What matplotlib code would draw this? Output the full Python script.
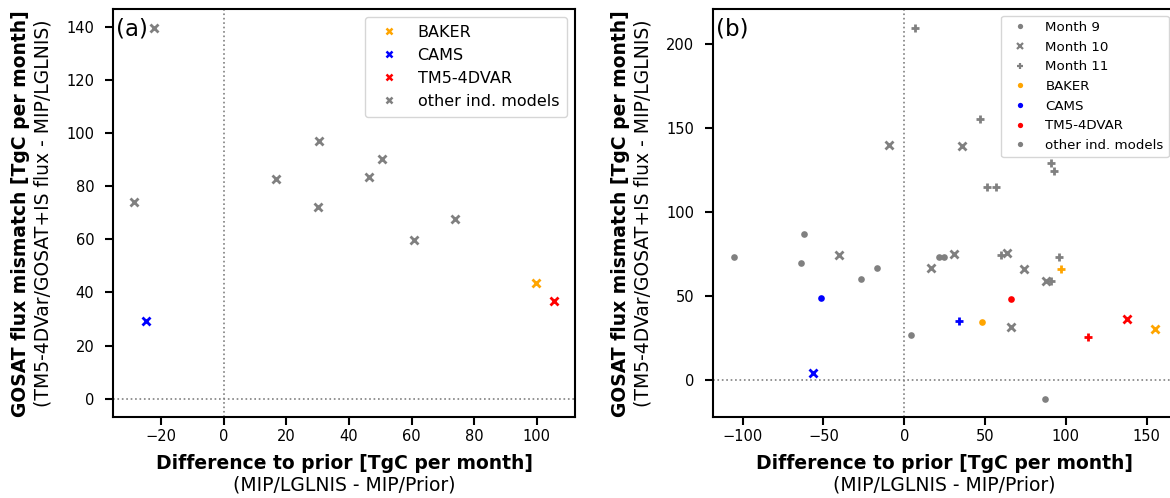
import matplotlib
matplotlib.use("Agg")
import matplotlib.pyplot as plt
from matplotlib.lines import Line2D

# ---------------- data ----------------
# panel (a)
a_other_x = [-28.6, -22.3, 16.7, 30.5, 30.2, 46.4, 50.5, 60.7, 73.9]
a_other_y = [74.0, 139.7, 82.8, 97.0, 72.1, 83.5, 90.3, 59.6, 67.5]
a_baker = (99.8, 43.6)
a_cams = (-24.9, 29.3)
a_tm5 = (105.5, 36.6)

# panel (b)
m9_other_x = [-105.1, -61.9, -63.8, -26.6, -16.6, 4.4, 21.7, 24.8, 87.4]
m9_other_y = [73.1, 87.1, 69.9, 60.4, 66.9, 26.7, 73.3, 73.1, -11.1]
m9_baker = (47.9, 34.3)
m9_cams = (-51.2, 48.9)
m9_tm5 = (66.1, 48.1)

m10_other_x = [-9.1, -40.2, 16.6, 30.6, 35.7, 63.3, 74.3, 87.6, 66.1]
m10_other_y = [139.8, 74.3, 66.7, 75.0, 139.4, 75.8, 65.9, 58.8, 31.7]
m10_baker = (154.9, 30.3)
m10_cams = (-56.3, 4.0)
m10_tm5 = (137.9, 36.2)

m11_other_x = [6.5, 47.0, 51.2, 56.8, 90.7, 92.5, 59.8, 96.0, 90.7]
m11_other_y = [209.9, 155.4, 115.0, 115.0, 129.3, 124.4, 74.5, 73.5, 58.8]
m11_baker = (97.2, 66.3)
m11_cams = (33.9, 35.0)
m11_tm5 = (113.8, 25.7)

model_names = ["BAKER", "CAMS", "TM5-4DVAR", "other ind. models"]
model_colors = ["orange", "blue", "red", "grey"]
month_labels = ["Month 9", "Month 10", "Month 11"]

xlabel_bold = "Difference to prior [TgC per month]"
xlabel_sub = "(MIP/LGLNIS - MIP/Prior)"
ylabel_bold = "GOSAT flux mismatch [TgC per month]"
ylabel_sub = "(TM5-4DVar/GOSAT+IS flux - MIP/LGLNIS)"

# ---------------- figure ----------------
W, H = 1170, 498
fig = plt.figure(figsize=(W / 100, H / 100), dpi=100)

def px_axes(left, top, right, bottom):
    return fig.add_axes([left / W, 1 - bottom / H, (right - left) / W, (bottom - top) / H])

axA = px_axes(113.3, 9.0, 575.0, 417.3)
axB = px_axes(713.3, 9.0, 1175.6, 417.3)

XMS, XMEW = 5.5, 2.0
CMS = 4.8
PMS = 5.8

def style_axis(ax):
    for s in ax.spines.values():
        s.set_linewidth(1.5)
    ax.tick_params(labelsize=10.5, length=5.8, width=1.5)
    ax.tick_params(axis="y", pad=8)
    ax.tick_params(axis="x", pad=2.5)
    ax.axhline(0, color="grey", ls=":", lw=1.2, zorder=0)
    ax.axvline(0, color="grey", ls=":", lw=1.2, zorder=0)

# panel (a)
style_axis(axA)
kw = dict(marker="x", ls="none", ms=XMS, mew=XMEW)
axA.plot(a_other_x, a_other_y, color="grey", **kw)
axA.plot([a_baker[0]], [a_baker[1]], color="orange", **kw)
axA.plot([a_cams[0]], [a_cams[1]], color="blue", **kw)
axA.plot([a_tm5[0]], [a_tm5[1]], color="red", **kw)
axA.set_yticks([0, 20, 40, 60, 80, 100, 120, 140])
axA.set_xticks([-20, 0, 20, 40, 60, 80, 100])
handlesA = [Line2D([], [], marker="x", ls="none", color=c, ms=4.5, mew=1.8)
            for c in model_colors]
axA.legend(handlesA, model_names, loc="upper right", fontsize=11.5,
           handletextpad=0.8, borderpad=0.5, labelspacing=0.5)
axA.text(0.006, 0.95, "(a)", transform=axA.transAxes, fontsize=16.5,
         ha="left", va="center")

# panel (b)
style_axis(axB)
for mk, ox, oy, bk, cm, tm in [
    ("o", m9_other_x, m9_other_y, m9_baker, m9_cams, m9_tm5),
    ("x", m10_other_x, m10_other_y, m10_baker, m10_cams, m10_tm5),
    ("+", m11_other_x, m11_other_y, m11_baker, m11_cams, m11_tm5),
]:
    if mk == "o":
        kw = dict(marker="o", ls="none", ms=CMS, mew=0)
    elif mk == "x":
        kw = dict(marker="x", ls="none", ms=XMS, mew=XMEW)
    else:
        kw = dict(marker="+", ls="none", ms=PMS, mew=2.0)
    axB.plot(ox, oy, color="grey", **kw)
    axB.plot([bk[0]], [bk[1]], color="orange", **kw)
    axB.plot([cm[0]], [cm[1]], color="blue", **kw)
    axB.plot([tm[0]], [tm[1]], color="red", **kw)
axB.set_yticks([0, 50, 100, 150, 200])
axB.set_xticks([-100, -50, 0, 50, 100, 150])
handlesB = [
    Line2D([], [], marker="o", ls="none", color="grey", ms=3.8, mew=0),
    Line2D([], [], marker="x", ls="none", color="grey", ms=4.5, mew=1.6),
    Line2D([], [], marker="+", ls="none", color="grey", ms=4.8, mew=1.6),
] + [Line2D([], [], marker="o", ls="none", color=c, ms=3.8, mew=0) for c in model_colors]
axB.legend(handlesB, month_labels + model_names, loc="upper right", fontsize=9.6,
           handletextpad=0.9, borderpad=0.4, labelspacing=0.5)
axB.text(0.006, 0.95, "(b)", transform=axB.transAxes, fontsize=16.5,
         ha="left", va="center")

# labels
for ax in (axA, axB):
    pos = ax.get_position()
    cx = (pos.x0 + pos.x1) / 2
    cy = (pos.y0 + pos.y1) / 2
    fig.text(cx, 1 - 463 / H, xlabel_bold, ha="center", va="center",
             fontsize=13.5, fontweight="bold")
    fig.text(cx, 1 - 485 / H, xlabel_sub, ha="center", va="center", fontsize=13.5)
    lx = pos.x0 * W
    fig.text((lx - 92.6) / W, cy, ylabel_bold, ha="center", va="center",
             rotation=90, fontsize=13.5, fontweight="bold")
    fig.text((lx - 70.5) / W, cy, ylabel_sub, ha="center", va="center",
             rotation=90, fontsize=13.5)

fig.savefig("out.png", dpi=100)
